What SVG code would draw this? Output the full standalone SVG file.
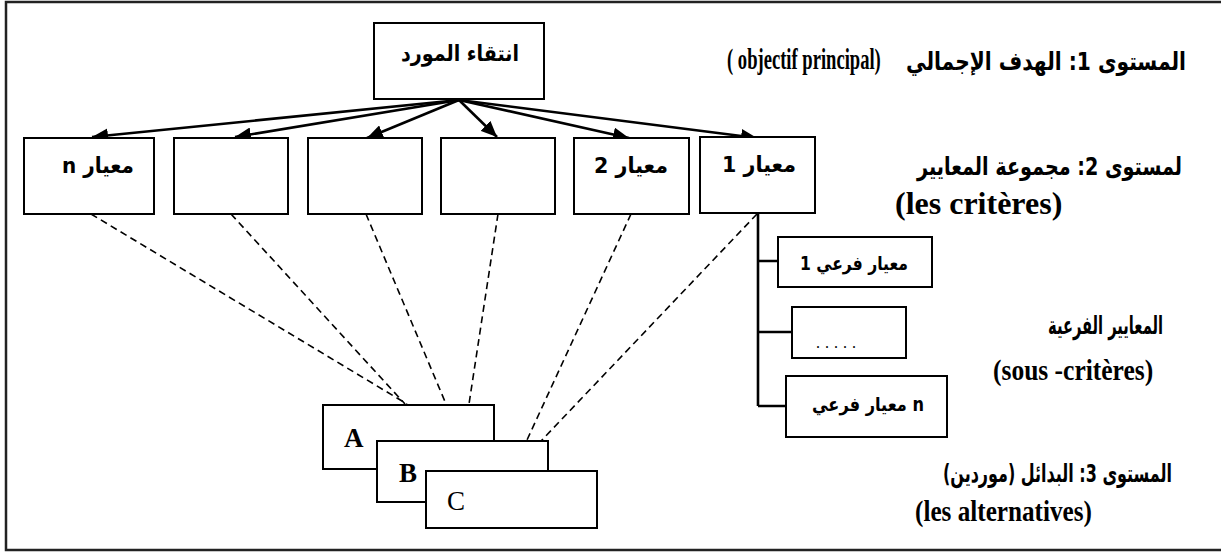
<svg xmlns="http://www.w3.org/2000/svg" width="1221" height="553" viewBox="0 0 1221 553">
  <defs>
    <marker id="head" markerUnits="userSpaceOnUse" markerWidth="18" markerHeight="14" refX="16" refY="7" orient="auto">
      <path d="M0,0 L16,7 L0,14 Z" fill="#000"/>
    </marker>
    <style>
      .box { fill: #fff; stroke: #000; stroke-width: 2; }
      .frame { fill: none; stroke: #222; stroke-width: 2.5; }
      .arrow { stroke: #000; stroke-width: 2.6; fill: none; marker-end: url(#head); }
      .dash { stroke: #000; stroke-width: 1.6; stroke-dasharray: 7 4.5; fill: none; }
      .tree { stroke: #000; stroke-width: 2.6; fill: none; }
      .ar { font-family: "DejaVu Sans", sans-serif; font-weight: bold; fill: #000; }
      .lat { font-family: "Liberation Serif", serif; font-weight: bold; fill: #000; }
      .reg { font-family: "Liberation Serif", serif; fill: #000; }
    </style>
  </defs>

  <!-- outer frame -->
  <rect class="frame" x="6" y="2" width="1225" height="548"/>

  <!-- connectors -->
  <g id="connectors">
    <line class="arrow" x1="459" y1="100" x2="92" y2="137"/>
    <line class="arrow" x1="459" y1="100" x2="235" y2="137"/>
    <line class="arrow" x1="459" y1="100" x2="367" y2="138"/>
    <line class="arrow" x1="459" y1="100" x2="497" y2="137"/>
    <line class="arrow" x1="459" y1="100" x2="629" y2="138"/>
    <line class="arrow" x1="459" y1="100" x2="757" y2="138"/>

    <line class="dash" x1="91" y1="214" x2="407" y2="404"/>
    <line class="dash" x1="231" y1="214" x2="405" y2="404"/>
    <line class="dash" x1="366" y1="214" x2="446" y2="404"/>
    <line class="dash" x1="498" y1="214" x2="469" y2="404"/>
    <line class="dash" x1="631" y1="214" x2="527" y2="440"/>
    <line class="dash" x1="757" y1="214" x2="541" y2="441"/>

    <path class="tree" d="M758,213 V406 M758,261 H778 M758,332 H792 M758,406 H786"/>
  </g>

  <!-- level 1: goal -->
  <g id="goal">
    <rect class="box" x="374" y="23" width="170" height="76"/>
    <text class="ar" x="460" y="61" font-size="22" text-anchor="middle" textLength="118" lengthAdjust="spacingAndGlyphs">انتقاء المورد</text>
  </g>

  <!-- level 2: criteria -->
  <g id="criterion-n">
    <rect class="box" x="24" y="138" width="130" height="76"/>
    <text class="ar" x="98" y="173" font-size="22" text-anchor="middle" textLength="72" lengthAdjust="spacingAndGlyphs">n معيار</text>
  </g>
  <g id="criterion-5">
    <rect class="box" x="174" y="138" width="114" height="76"/>
  </g>
  <g id="criterion-4">
    <rect class="box" x="308" y="138" width="114" height="76"/>
  </g>
  <g id="criterion-3">
    <rect class="box" x="441" y="138" width="114" height="76"/>
  </g>
  <g id="criterion-2">
    <rect class="box" x="574" y="138" width="115" height="76"/>
    <text class="ar" x="631" y="173" font-size="22" text-anchor="middle" textLength="74" lengthAdjust="spacingAndGlyphs">معيار 2</text>
  </g>
  <g id="criterion-1">
    <rect class="box" x="700" y="137" width="115" height="76"/>
    <text class="ar" x="759" y="172" font-size="22" text-anchor="middle" textLength="74" lengthAdjust="spacingAndGlyphs">معيار 1</text>
  </g>

  <!-- sub-criteria -->
  <g id="sub-1">
    <rect class="box" x="778" y="237" width="154" height="50"/>
    <text class="ar" x="854" y="270" font-size="19" text-anchor="middle" textLength="108" lengthAdjust="spacingAndGlyphs">معيار فرعي 1</text>
  </g>
  <g id="sub-2">
    <rect class="box" x="792" y="307" width="114" height="51"/>
    <text class="reg" x="816" y="348" font-size="16" letter-spacing="5">.....</text>
  </g>
  <g id="sub-n">
    <rect class="box" x="786" y="376" width="161" height="61"/>
    <text class="ar" x="868" y="411" font-size="19" text-anchor="middle" textLength="112" lengthAdjust="spacingAndGlyphs">معيار فرعي n</text>
  </g>

  <!-- level 3: alternatives -->
  <g id="alt-a">
    <rect class="box" x="323" y="405" width="171" height="64"/>
    <text class="lat" x="344" y="447" font-size="27">A</text>
  </g>
  <g id="alt-b">
    <rect class="box" x="377" y="441" width="171" height="61"/>
    <text class="lat" x="399" y="482" font-size="27">B</text>
  </g>
  <g id="alt-c">
    <rect class="box" x="426" y="471" width="171" height="57"/>
    <text class="reg" x="447" y="510" font-size="27">C</text>
  </g>

  <!-- level captions (Latin lines are condensed horizontally) -->
  <g id="captions">
    <text class="lat" transform="translate(727,69) scale(0.62,1)" font-size="30">( objectif principal)</text>
    <text class="ar" x="1186" y="70" font-size="25" text-anchor="end" textLength="280" lengthAdjust="spacingAndGlyphs">المستوى 1: الهدف الإجمالي</text>

    <text class="ar" x="1182" y="175" font-size="25" text-anchor="end" textLength="265" lengthAdjust="spacingAndGlyphs">لمستوى 2: مجموعة المعايير</text>
    <text class="lat" x="895" y="214" font-size="32">(les critères)</text>

    <text class="ar" x="1163" y="334" font-size="25" text-anchor="end" textLength="115" lengthAdjust="spacingAndGlyphs">المعايير الفرعية</text>
    <text class="lat" transform="translate(993,380) scale(0.85,1)" font-size="30">(sous -critères)</text>

    <text class="ar" x="1172" y="482" font-size="25" text-anchor="end" textLength="229" lengthAdjust="spacingAndGlyphs">المستوى 3: البدائل (موردين)</text>
    <text class="lat" transform="translate(915,521) scale(0.84,1)" font-size="30">(les alternatives)</text>
  </g>
</svg>
